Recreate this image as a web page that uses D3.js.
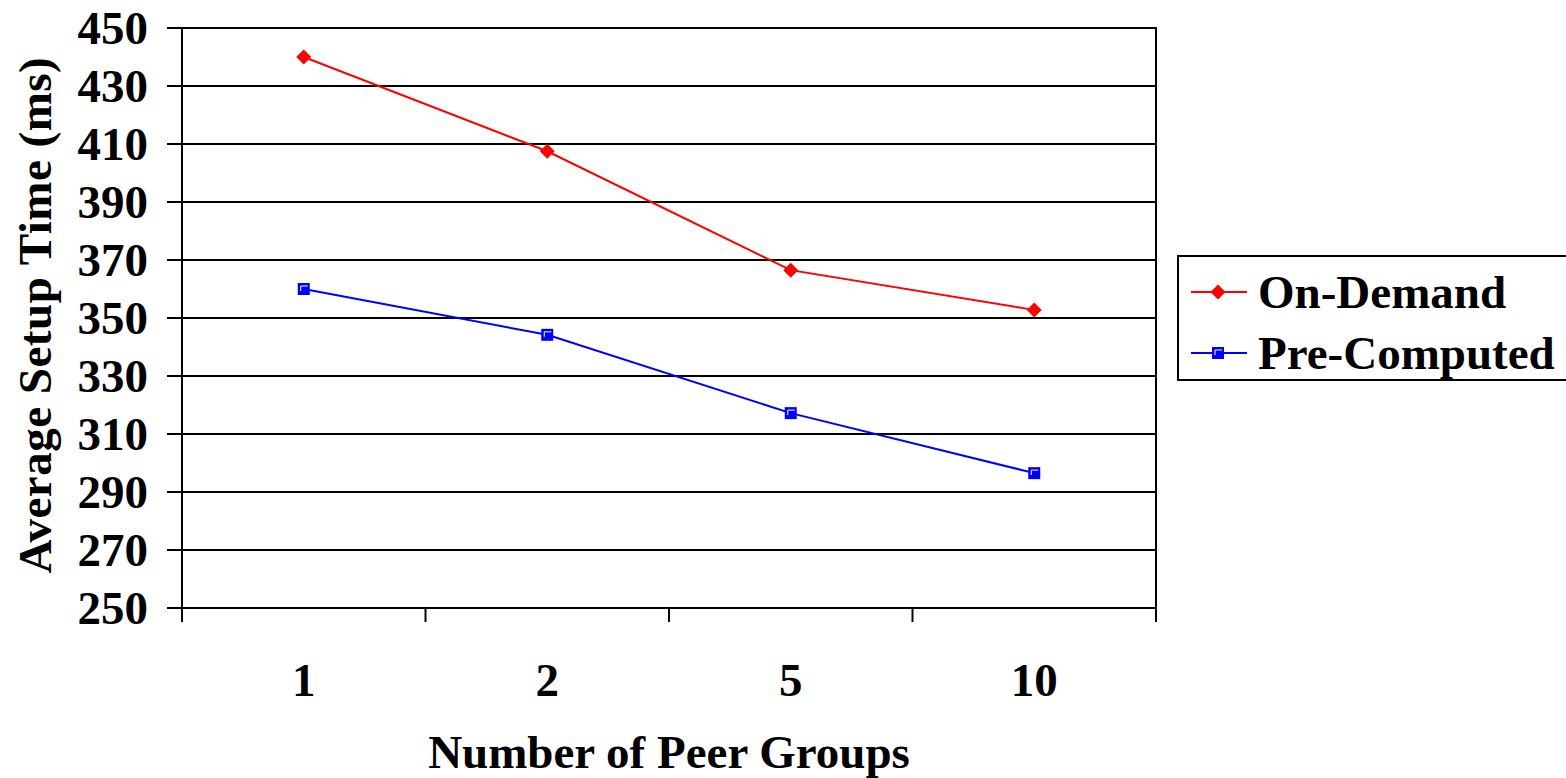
<!DOCTYPE html>
<html>
<head>
<meta charset="utf-8">
<title>Average Setup Time</title>
<script src="https://d3js.org/d3.v7.min.js"></script>
<style>
  body { margin: 0; background: #fff; }
  text { font-family: "Liberation Serif", "Times New Roman", serif; font-weight: bold; fill: #000; }
</style>
</head>
<body>
<script>
// data
var groups = ["1", "2", "5", "10"];
var onDemand = [440, 407.5, 366.5, 352.8];
var preComputed = [360, 344.2, 317.2, 296.5];
var yTicks = [250, 270, 290, 310, 330, 350, 370, 390, 410, 430, 450];

var W = 1566, H = 778;
var plotL = 182, plotR = 1156, plotT = 28, plotB = 608;
var fs = "47px";

var svg = d3.select("body").append("svg")
    .attr("width", W)
    .attr("height", H);

var x = d3.scalePoint().domain(groups).range([plotL, plotR]).padding(0.5);
var xBand = d3.scaleBand().domain(groups).range([plotL, plotR]);
var y = d3.scaleLinear().domain([250, 450]).range([plotB, plotT]);

// horizontal gridlines + left ticks
svg.append("g")
    .selectAll("line")
    .data(yTicks)
    .enter().append("line")
    .attr("x1", plotL - 15)
    .attr("x2", plotR)
    .attr("y1", function(d) { return y(d); })
    .attr("y2", function(d) { return y(d); })
    .attr("stroke", "#000")
    .attr("stroke-width", 2);

// y tick labels
svg.append("g")
    .selectAll("text")
    .data(yTicks)
    .enter().append("text")
    .attr("x", 148)
    .attr("y", function(d) { return y(d); })
    .attr("dy", "0.35em")
    .attr("text-anchor", "end")
    .style("font-size", fs)
    .text(function(d) { return d; });

// y axis line and right border
svg.append("line")
    .attr("x1", plotL).attr("x2", plotL)
    .attr("y1", plotT).attr("y2", plotB + 14)
    .attr("stroke", "#000").attr("stroke-width", 2);
svg.append("line")
    .attr("x1", plotR).attr("x2", plotR)
    .attr("y1", plotT - 1).attr("y2", plotB + 14)
    .attr("stroke", "#000").attr("stroke-width", 2);

// x ticks at band boundaries
var bounds = groups.slice(1).map(function(g) { return xBand(g); });
svg.append("g")
    .selectAll("line")
    .data(bounds)
    .enter().append("line")
    .attr("x1", function(d) { return d; })
    .attr("x2", function(d) { return d; })
    .attr("y1", plotB)
    .attr("y2", plotB + 14)
    .attr("stroke", "#000")
    .attr("stroke-width", 2);

// x tick labels
svg.append("g")
    .selectAll("text")
    .data(groups)
    .enter().append("text")
    .attr("x", function(d) { return x(d); })
    .attr("y", 680)
    .attr("dy", "0.35em")
    .attr("text-anchor", "middle")
    .style("font-size", fs)
    .text(function(d) { return d; });

// axis titles
svg.append("text")
    .attr("x", (plotL + plotR) / 2)
    .attr("y", 752)
    .attr("dy", "0.35em")
    .attr("text-anchor", "middle")
    .style("font-size", fs)
    .text("Number of Peer Groups");

svg.append("text")
    .attr("transform", "translate(35," + y(351) + ") rotate(-90)")
    .attr("dy", "0.35em")
    .attr("text-anchor", "middle")
    .style("font-size", fs)
    .style("letter-spacing", "0.5px")
    .text("Average Setup Time (ms)");

var line = d3.line()
    .x(function(d, i) { return x(groups[i]); })
    .y(function(d) { return y(d); });

function diamond(g, cx, cy) {
    g.append("path")
        .attr("d", "M" + cx + "," + (cy - 7.5) + "L" + (cx + 7.5) + "," + cy + "L" + cx + "," + (cy + 7.5) + "L" + (cx - 7.5) + "," + cy + "Z")
        .attr("fill", "#ff0000");
}

function square(g, cx, cy) {
    g.append("rect")
        .attr("x", cx - 6).attr("y", cy - 6)
        .attr("width", 12).attr("height", 12)
        .attr("fill", "#0000ff");
    g.append("path")
        .attr("d", "M" + (cx - 3) + "," + (cy + 2) + "V" + (cy - 3) + "H" + (cx + 4))
        .attr("fill", "none")
        .attr("stroke", "#fff")
        .attr("stroke-width", 1);
}

// On-Demand series
svg.append("path")
    .datum(onDemand)
    .attr("d", line)
    .attr("fill", "none")
    .attr("stroke", "#ff0000")
    .attr("stroke-width", 2);

var odMarks = svg.append("g");
onDemand.forEach(function(v, i) { diamond(odMarks, x(groups[i]), y(v)); });

// Pre-Computed series
svg.append("path")
    .datum(preComputed)
    .attr("d", line)
    .attr("fill", "none")
    .attr("stroke", "#0000ff")
    .attr("stroke-width", 2);

var pcMarks = svg.append("g");
preComputed.forEach(function(v, i) { square(pcMarks, x(groups[i]), y(v)); });

// legend
var lg = svg.append("g");
lg.append("rect")
    .attr("x", 1178).attr("y", 256)
    .attr("width", 400).attr("height", 124)
    .attr("fill", "#fff")
    .attr("stroke", "#000")
    .attr("stroke-width", 2);

var legendItems = [
    {name: "On-Demand", color: "#ff0000", y: 292, mark: diamond},
    {name: "Pre-Computed", color: "#0000ff", y: 353, mark: square}
];
legendItems.forEach(function(it) {
    lg.append("line")
        .attr("x1", 1191).attr("x2", 1247)
        .attr("y1", it.y).attr("y2", it.y)
        .attr("stroke", it.color).attr("stroke-width", 2);
    it.mark(lg, 1218, it.y);
    lg.append("text")
        .attr("x", 1258)
        .attr("y", it.y)
        .attr("dy", "0.35em")
        .style("font-size", fs)
        .text(it.name);
});
</script>
</body>
</html>
